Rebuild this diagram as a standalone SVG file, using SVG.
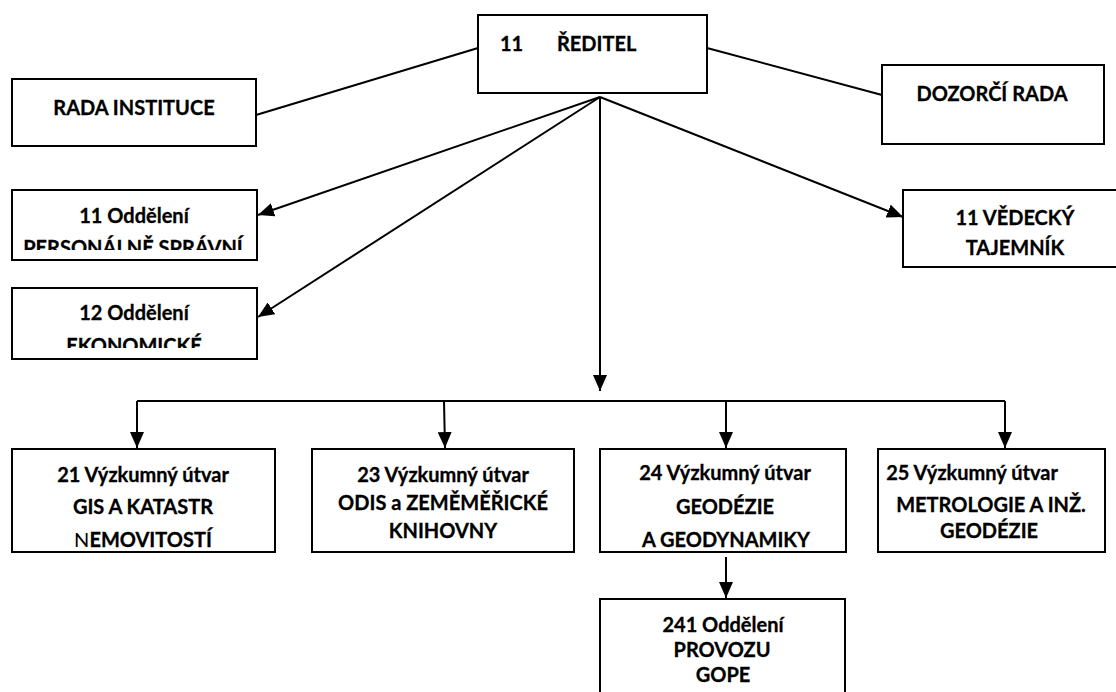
<svg xmlns="http://www.w3.org/2000/svg" width="1116" height="692" viewBox="0 0 1116 692">
<style>
  .box { fill: #ffffff; stroke: #000000; stroke-width: 2; }
  .t { font-family: Lato, "Liberation Sans", sans-serif; font-weight: bold; font-size: 20px; fill: #000000; stroke: #000000; stroke-width: 0.3; text-anchor: middle; }
  .reg { font-weight: normal; stroke-width: 0; }
  .ln { stroke: #000000; stroke-width: 2; fill: none; }
  .arr { marker-end: url(#ah); }
</style>
<defs>
  <marker id="ah" viewBox="0 0 16 14" refX="16" refY="7" markerWidth="16" markerHeight="14" markerUnits="userSpaceOnUse" orient="auto">
    <path d="M0,0 L16,7 L0,14 Z" fill="#000000"/>
  </marker>
  <clipPath id="c1"><rect x="12" y="190" width="245" height="60"/></clipPath>
  <clipPath id="c2"><rect x="12" y="288" width="245" height="60"/></clipPath>
</defs>
<rect width="1116" height="692" fill="#ffffff"/>

<g id="connectors">
  <line class="ln" x1="478" y1="48" x2="256" y2="115"/>
  <line class="ln" x1="707" y1="48" x2="882" y2="95"/>
  <line class="ln arr" x1="600" y1="97" x2="258" y2="215"/>
  <line class="ln arr" x1="600" y1="97" x2="258" y2="317"/>
  <line class="ln arr" x1="600" y1="97" x2="903" y2="217"/>
  <line class="ln arr" x1="600" y1="97" x2="600" y2="391"/>
  <polyline class="ln" points="137,401 1005,401"/>
  <line class="ln arr" x1="137" y1="401" x2="137" y2="448"/>
  <line class="ln arr" x1="444" y1="401" x2="445" y2="448"/>
  <line class="ln arr" x1="726" y1="401" x2="726" y2="448"/>
  <line class="ln arr" x1="1005" y1="401" x2="1005" y2="448"/>
  <line class="ln arr" x1="726" y1="557" x2="726" y2="598"/>
</g>

<g id="reditel">
  <rect class="box" x="478" y="15" width="229" height="78"/>
  <text class="t" x="500" y="51" style="text-anchor:start">11</text>
  <text class="t" x="557" y="51" style="text-anchor:start">ŘEDITEL</text>
</g>

<g id="rada-instituce">
  <rect class="box" x="12" y="79" width="244" height="67"/>
  <text class="t" x="134" y="115">RADA INSTITUCE</text>
</g>

<g id="dozorci-rada">
  <rect class="box" x="882" y="65" width="222" height="79"/>
  <text class="t" x="992" y="101">DOZORČÍ RADA</text>
</g>

<g id="personalne-spravni">
  <rect class="box" x="12" y="190" width="245" height="70"/>
  <text class="t" x="134" y="223">11 Oddělení</text>
  <text class="t" x="133" y="255" clip-path="url(#c1)">PERSONÁLNĚ SPRÁVNÍ</text>
</g>

<g id="ekonomicke">
  <rect class="box" x="12" y="288" width="245" height="71"/>
  <text class="t" x="134" y="320">12 Oddělení</text>
  <text class="t" x="134" y="353" clip-path="url(#c2)">EKONOMICKÉ</text>
</g>

<g id="vedecky-tajemnik">
  <rect class="box" x="903" y="190" width="220" height="77"/>
  <text class="t" x="1015" y="225">11 VĚDECKÝ</text>
  <text class="t" x="1015" y="255">TAJEMNÍK</text>
</g>

<g id="utvar-21">
  <rect class="box" x="12" y="449" width="263" height="103"/>
  <text class="t" x="143" y="482">21 Výzkumný útvar</text>
  <text class="t" x="143" y="514">GIS A KATASTR</text>
  <text class="t" x="143" y="547"><tspan class="reg">N</tspan>EMOVITOSTÍ</text>
</g>

<g id="utvar-23">
  <rect class="box" x="312" y="449" width="262" height="103"/>
  <text class="t" x="443" y="482">23 Výzkumný útvar</text>
  <text class="t" x="443" y="510">ODIS a ZEMĚMĚŘICKÉ</text>
  <text class="t" x="443" y="538">KNIHOVNY</text>
</g>

<g id="utvar-24">
  <rect class="box" x="600" y="449" width="246" height="103"/>
  <text class="t" x="725" y="480">24 Výzkumný útvar</text>
  <text class="t" x="725" y="514">GEODÉZIE</text>
  <text class="t" x="726" y="547">A GEODYNAMIKY</text>
</g>

<g id="utvar-25">
  <rect class="box" x="878" y="449" width="227" height="103"/>
  <text class="t" x="972" y="480">25 Výzkumný útvar</text>
  <text class="t" x="991" y="512">METROLOGIE A INŽ.</text>
  <text class="t" x="989" y="538">GEODÉZIE</text>
</g>

<g id="oddeleni-241">
  <rect class="box" x="600" y="599" width="245" height="110"/>
  <text class="t" x="723" y="632">241 Oddělení</text>
  <text class="t" x="722" y="657">PROVOZU</text>
  <text class="t" x="723" y="682">GOPE</text>
</g>
</svg>
